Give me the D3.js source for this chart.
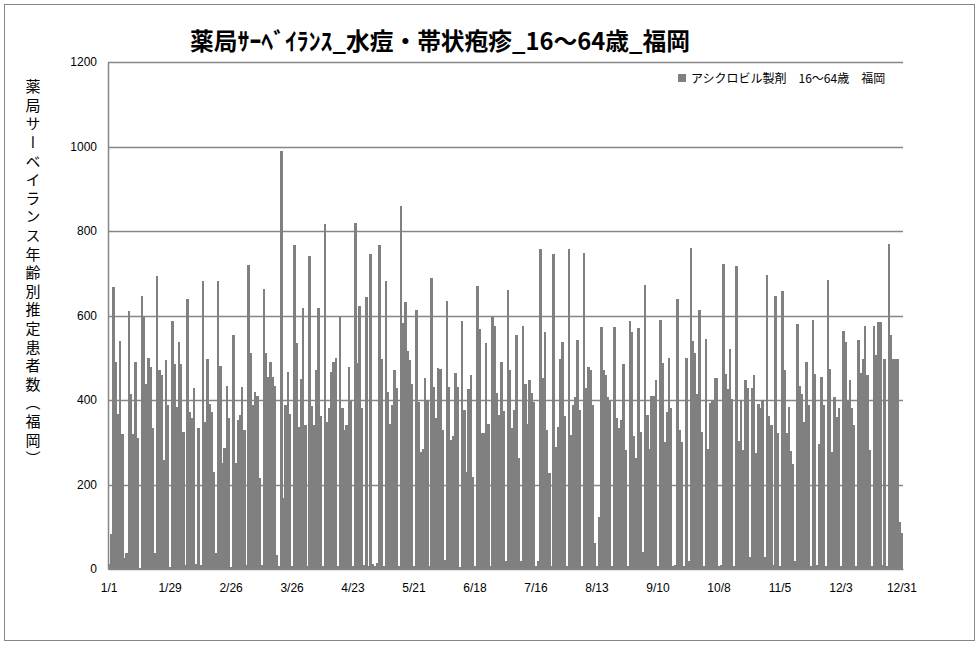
<!DOCTYPE html>
<html><head><meta charset="utf-8">
<script src="https://cdn.jsdelivr.net/npm/d3@7"></script>
<style>body{margin:0;background:#fff}svg{display:block}</style>
</head><body>
<svg id="chart" width="980" height="646"></svg>
<script>
const chartTitle = "薬局ｻｰﾍﾞｲﾗﾝｽ_水痘・帯状疱疹_16～64歳_福岡";
const yAxisTitle = "薬局サーベイランス年齢別推定患者数（福岡）";
const seriesName = "アシクロビル製剤　16～64歳　福岡";
const yTickValues = [0, 200, 400, 600, 800, 1000, 1200];
const xTickLabels = ["1/1","1/29","2/26","3/26","4/23","5/21","6/18","7/16","8/13","9/10","10/8","11/5","12/3","12/31"];
// categories: every day of the year
const categories = d3.timeDay.range(new Date(2011,0,1), new Date(2012,0,1)).map(d3.timeFormat("%-m/%-d"));
// daily values
const dailyValues = [
 12,
 83,668,489,368,539,320,25,
 37,610,415,320,489,309,3,
 646,598,439,500,477,333,37,
 693,470,458,258,494,387,5,
 588,486,383,537,486,325,10,
 638,371,358,428,12,334,10,
 682,347,496,391,371,230,37,
 682,481,252,287,434,357,5,
 553,252,353,364,431,330,10,
 719,511,387,420,410,216,10,
 662,511,455,489,455,434,33,
 8,990,167,388,467,368,8,
 767,535,336,450,618,341,8,
 741,385,341,472,618,363,8,
 816,349,382,467,491,500,8,
 600,382,328,340,478,398,8,
 818,488,622,380,10,643,8,
 745,12,8,15,766,496,8,
 681,420,344,387,472,429,8,
 860,583,633,515,494,439,8,
 613,396,277,285,453,399,8,
 689,431,358,475,474,328,21,
 635,431,306,315,464,431,4,
 586,376,230,426,459,217,8,
 671,567,322,322,534,344,8,
 597,576,417,364,491,374,20,
 660,470,334,376,555,262,20,
 576,439,344,448,417,396,8,
 20,757,453,560,330,228,8,
 745,289,336,496,538,361,8,
 757,318,388,407,543,377,8,
 747,429,478,470,388,61,8,
 123,573,470,459,407,401,8,
 573,358,334,352,486,282,8,
 588,560,314,263,570,325,40,
 673,365,285,410,410,448,8,
 590,488,300,371,500,380,8,
 10,640,330,300,8,500,20,
 760,540,511,415,614,325,8,
 545,285,394,399,453,453,8,
 10,721,462,426,521,402,8,
 716,304,399,282,448,429,29,
 429,459,274,391,382,400,29,
 695,361,342,10,647,322,8,
 657,470,322,383,279,249,20,
 579,434,415,347,491,387,8,
 590,462,10,295,455,388,8,
 685,474,276,407,360,380,8,
 563,537,400,447,380,341,8,
 543,464,497,576,459,282,8,
 576,507,584,584,10,497,8,
 770,555,497,497,497,112,85
];

const svg = d3.select("#chart");
const plot = {left:108, right:903, top:62, bottom:569};
const gridColor = "#868686", barColor = "#808080";

svg.append("rect").attr("x",4.5).attr("y",4.5).attr("width",970).attr("height",636)
  .attr("fill","#fff").attr("stroke",gridColor).attr("stroke-width",1);

const x = d3.scaleBand().domain(categories).range([plot.left, plot.right]).padding(0);
const y = d3.scaleLinear().domain([0,1200]).range([plot.bottom, plot.top]);

// gridlines
svg.append("g").selectAll("line").data(yTickValues.filter(v=>v>0)).join("line")
  .attr("x1",plot.left).attr("x2",plot.right)
  .attr("y1",d=>Math.round(y(d))+0.5).attr("y2",d=>Math.round(y(d))+0.5)
  .attr("stroke",gridColor).attr("stroke-width",1.5);

// bars
const data = categories.map((c,i)=>({c, v: dailyValues[i]}));
svg.append("g").attr("shape-rendering","crispEdges").selectAll("rect").data(data).join("rect")
  .attr("x",d=>x(d.c)).attr("width",x.bandwidth()+0.35)
  .attr("y",d=>y(d.v)).attr("height",d=>y(0)-y(d.v))
  .attr("fill",barColor);

// axes
const yAxis = d3.axisLeft(y).tickValues(yTickValues).tickSize(0).tickPadding(11).tickFormat(d3.format("d"));
const gy = svg.append("g").attr("transform",`translate(${plot.left},0)`).call(yAxis);
gy.select(".domain").attr("stroke",gridColor).attr("stroke-width",1.5);
gy.selectAll("text").attr("font-family","'Liberation Sans', Arial, sans-serif").attr("font-size","12px").attr("fill","#000");

const xAxis = d3.axisBottom(x).tickValues(xTickLabels).tickSize(0).tickPadding(14);
const gx = svg.append("g").attr("transform",`translate(0,${plot.bottom})`).call(xAxis);
gx.select(".domain").attr("stroke",gridColor).attr("stroke-width",1.5);
gx.selectAll("text").attr("font-family","'Liberation Sans', Arial, sans-serif").attr("font-size","12px").attr("fill","#000");

// title
const t = svg.append("text").attr("x",440).attr("y",50).attr("text-anchor","middle")
  .attr("font-family","'Noto Sans CJK JP', sans-serif").attr("font-weight","bold")
  .attr("font-size","22px").attr("fill","#000").text(chartTitle);
const tw = t.node().getComputedTextLength();
t.attr("font-size", (22*500/tw).toFixed(2)+"px");

// y axis title (vertical writing)
svg.append("text").attr("x",33).attr("y",79)
  .style("writing-mode","vertical-rl")
  .attr("font-family","'Noto Sans CJK JP', sans-serif").attr("font-size","15px")
  .attr("letter-spacing","3.6px").attr("fill","#000").text(yAxisTitle);

// legend
svg.append("rect").attr("x",678).attr("y",74).attr("width",8).attr("height",8).attr("fill",barColor);
svg.append("text").attr("x",691).attr("y",83).attr("font-family","'Noto Sans CJK JP', sans-serif")
  .attr("font-size","12px").attr("fill","#000").text(seriesName);
</script>
</body></html>
